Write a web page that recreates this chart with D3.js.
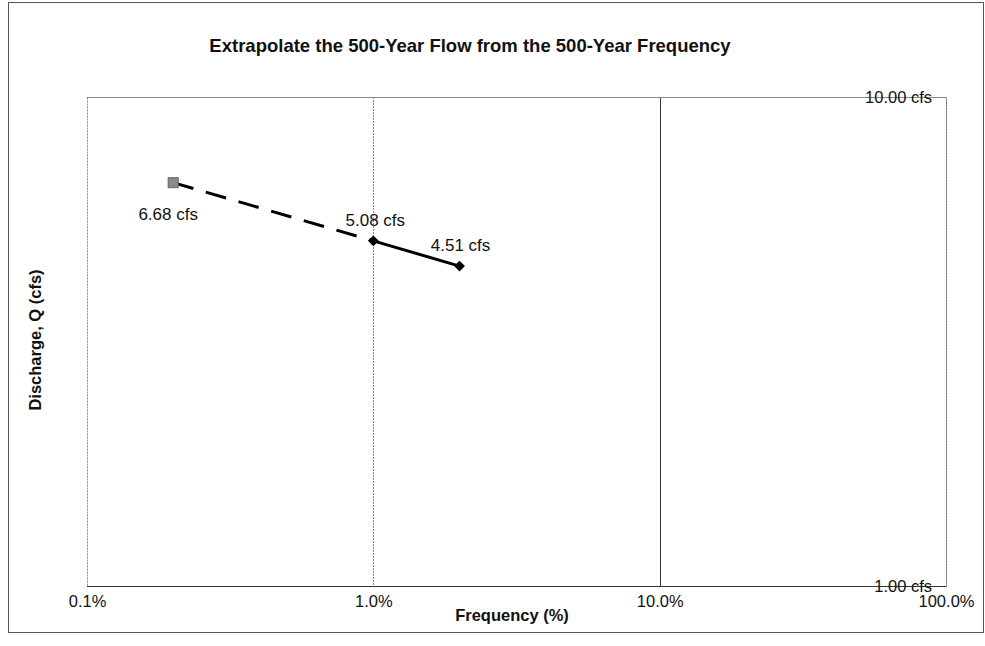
<!DOCTYPE html>
<html>
<head>
<meta charset="utf-8">
<script src="https://cdn.jsdelivr.net/npm/d3@7"></script>
<style>
  html, body { margin: 0; padding: 0; background: #fff; }
  svg text { font-family: "Liberation Sans", Arial, sans-serif; fill: #111; }
</style>
</head>
<body>
<svg id="chart" width="985" height="646"></svg>
<script>
// Exceedance frequency (%) and discharge (cfs)
const observedFreq = [1, 2];
const observedQ = [5.08, 4.51];
const extrapFreq = [0.2, 1];
const extrapQ = [6.68, 5.08];
const xTicks = [0.1, 1, 10, 100];
const yTicks = [1, 10];
const titleText = "Extrapolate the 500-Year Flow from the 500-Year Frequency";
const xTitle = "Frequency (%)";
const yTitle = "Discharge, Q (cfs)";

const svg = d3.select("#chart");
const plot = { left: 87, right: 946, top: 97, bottom: 586 };
const FONT = "Liberation Sans, Arial, sans-serif";

const x = d3.scaleLog().domain([0.1, 100]).range([plot.left, plot.right]);
const y = d3.scaleLog().domain([1, 10]).range([plot.bottom, plot.top]);

// chart frame
svg.append("rect")
  .attr("x", 8.5).attr("y", 2.5).attr("width", 975).attr("height", 630)
  .attr("fill", "none").attr("stroke", "#555").attr("stroke-width", 1);

// title
svg.append("text")
  .attr("x", 470).attr("y", 52)
  .attr("text-anchor", "middle")
  .attr("font-size", 18.5).attr("font-weight", "bold")
  .text(titleText);

// plot area border
svg.append("rect")
  .attr("x", plot.left + 0.5).attr("y", plot.top + 0.5)
  .attr("width", plot.right - plot.left).attr("height", plot.bottom - plot.top)
  .attr("fill", "none").attr("stroke", "#888").attr("stroke-width", 1)
  .attr("stroke-dasharray", "2,1");

// vertical gridlines
svg.append("g").selectAll("line")
  .data(xTicks.slice(1, -1))
  .join("line")
  .attr("x1", d => Math.round(x(d)) + 0.5).attr("x2", d => Math.round(x(d)) + 0.5)
  .attr("y1", plot.top).attr("y2", plot.bottom)
  .attr("stroke", (d, i) => i === 0 ? "#888" : "#333")
  .attr("stroke-dasharray", (d, i) => i === 0 ? "2,1" : null);

// horizontal gridlines
svg.append("g").selectAll("line")
  .data(yTicks)
  .join("line")
  .attr("x1", plot.left).attr("x2", plot.right)
  .attr("y1", d => Math.round(y(d)) + 0.5).attr("y2", d => Math.round(y(d)) + 0.5)
  .attr("stroke", d => d === 1 ? "#333" : "#888");

// x axis labels
const xAxis = d3.axisBottom(x)
  .tickValues(xTicks)
  .tickFormat(d => d.toFixed(1) + "%")
  .tickSize(0).tickPadding(9);
const gx = svg.append("g").attr("transform", `translate(0,${plot.bottom})`).call(xAxis);
gx.select(".domain").remove();
gx.selectAll("text").attr("font-size", 16.5).attr("font-family", FONT).attr("fill", "#111");

// y axis on right side, labels sitting on gridlines
const yAxis = d3.axisLeft(y)
  .tickValues(yTicks)
  .tickFormat(d => d.toFixed(2) + " cfs")
  .tickSize(0).tickPadding(14);
const gy = svg.append("g").attr("transform", `translate(${plot.right},0)`).call(yAxis);
gy.select(".domain").attr("stroke", "#777").attr("stroke-dasharray", "2,1");
gy.selectAll("text").attr("font-size", 16.5).attr("font-family", FONT).attr("fill", "#111")
  .attr("dy", "0.32em");

// axis titles
svg.append("text")
  .attr("x", 512).attr("y", 621)
  .attr("text-anchor", "middle")
  .attr("font-size", 16.5).attr("font-weight", "bold")
  .text(xTitle);

svg.append("text")
  .attr("transform", `translate(41,340) rotate(-90)`)
  .attr("text-anchor", "middle")
  .attr("font-size", 16.5).attr("font-weight", "bold")
  .text(yTitle);

// series
const extrap = extrapFreq.map((f, i) => ({ f, q: extrapQ[i] }));
const observed = observedFreq.map((f, i) => ({ f, q: observedQ[i] }));
const line = d3.line().x(d => x(d.f)).y(d => y(d.q));

svg.append("path")
  .datum(extrap)
  .attr("d", line)
  .attr("fill", "none").attr("stroke", "#000").attr("stroke-width", 3)
  .attr("stroke-dasharray", "21,13");

svg.append("path")
  .datum(observed)
  .attr("d", line)
  .attr("fill", "none").attr("stroke", "#000").attr("stroke-width", 3);

// extrapolated point (square)
svg.append("g").selectAll("rect")
  .data(extrap.slice(0, 1))
  .join("rect")
  .attr("x", d => x(d.f) - 5).attr("y", d => y(d.q) - 5)
  .attr("width", 10).attr("height", 10)
  .attr("fill", "#8a8a8a").attr("stroke", "#666").attr("stroke-width", 1);

// observed points (diamonds)
svg.append("g").selectAll("path")
  .data(observed)
  .join("path")
  .attr("transform", d => `translate(${x(d.f)},${y(d.q)})`)
  .attr("d", d3.symbol().type(d3.symbolDiamond2).size(75))
  .attr("fill", "#000");

// data labels
const labels = [
  { f: extrapFreq[0], q: extrapQ[0], dx: -5, dy: 37 },
  { f: observedFreq[0], q: observedQ[0], dx: 2, dy: -15 },
  { f: observedFreq[1], q: observedQ[1], dx: 1, dy: -15 }
];
svg.append("g").selectAll("text")
  .data(labels)
  .join("text")
  .attr("x", d => x(d.f) + d.dx)
  .attr("y", d => y(d.q) + d.dy)
  .attr("text-anchor", "middle")
  .attr("font-size", 17)
  .text(d => d.q.toFixed(2) + " cfs");
</script>
</body>
</html>
